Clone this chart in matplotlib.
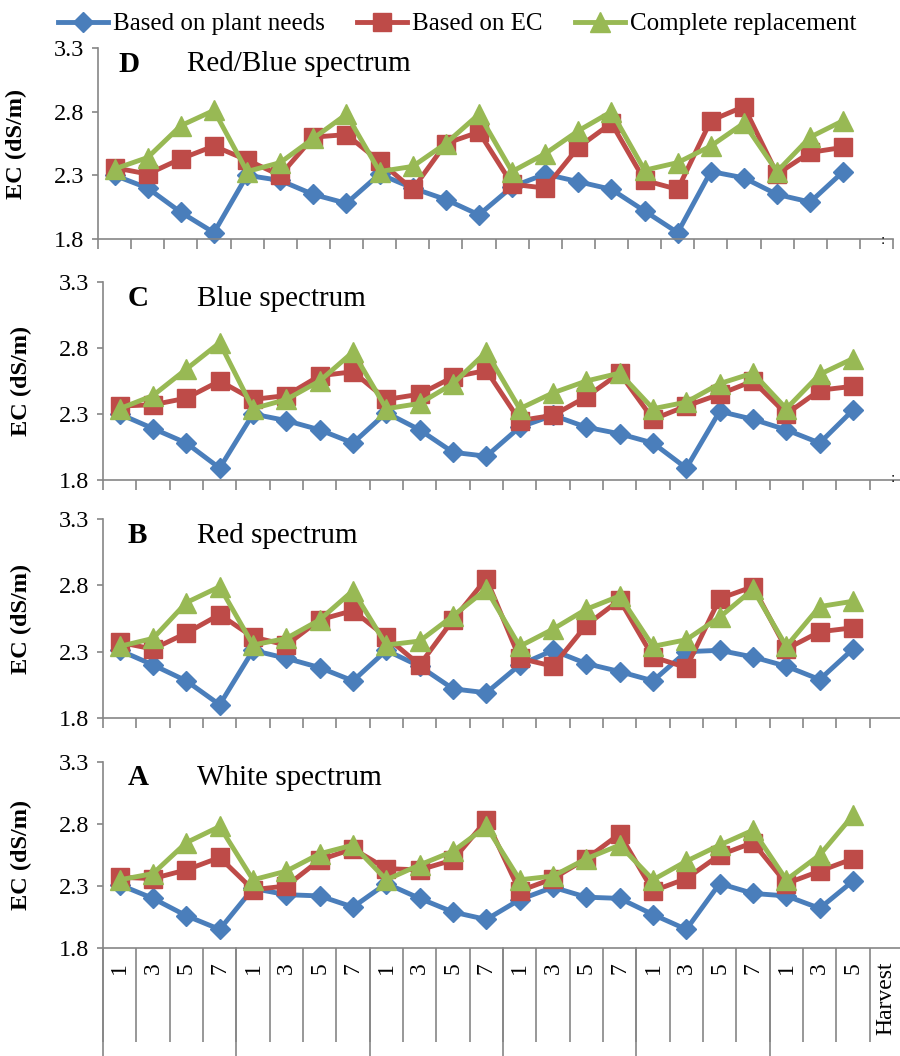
import numpy as np
import matplotlib
matplotlib.use("Agg")
import matplotlib.pyplot as plt

plt.rcParams['font.family'] = ['Liberation Serif', 'DejaVu Serif']

# x categories (days within each week, then harvest)
days = ['1', '3', '5', '7'] * 5 + ['1', '3', '5', 'Harvest']
series_names = ['Based on plant needs', 'Based on EC', 'Complete replacement']

# EC values (dS/m), one list per series and panel
d_plant = [2.30, 2.20, 2.01, 1.85, 2.30, 2.26, 2.15, 2.08, 2.31, 2.20, 2.11, 1.99,
           2.21, 2.31, 2.25, 2.19, 2.02, 1.85, 2.33, 2.28, 2.15, 2.09, 2.33]
d_ec = [2.36, 2.31, 2.43, 2.53, 2.42, 2.30, 2.60, 2.62, 2.41, 2.19, 2.55, 2.64,
        2.23, 2.20, 2.52, 2.71, 2.26, 2.19, 2.73, 2.84, 2.31, 2.48, 2.52]
d_repl = [2.35, 2.44, 2.69, 2.81, 2.33, 2.40, 2.59, 2.78, 2.33, 2.37, 2.55, 2.78,
          2.33, 2.47, 2.65, 2.80, 2.34, 2.40, 2.53, 2.71, 2.33, 2.60, 2.73]

c_plant = [2.30, 2.19, 2.08, 1.89, 2.30, 2.25, 2.18, 2.08, 2.31, 2.18, 2.01, 1.98,
           2.20, 2.29, 2.20, 2.15, 2.08, 1.89, 2.32, 2.26, 2.18, 2.08, 2.33]
c_ec = [2.36, 2.37, 2.42, 2.55, 2.41, 2.44, 2.59, 2.62, 2.41, 2.45, 2.58, 2.63,
        2.25, 2.29, 2.43, 2.61, 2.26, 2.36, 2.45, 2.55, 2.30, 2.48, 2.51]
c_repl = [2.34, 2.44, 2.64, 2.84, 2.34, 2.41, 2.55, 2.77, 2.34, 2.38, 2.53, 2.77,
          2.34, 2.46, 2.55, 2.61, 2.34, 2.39, 2.53, 2.61, 2.34, 2.60, 2.72]

b_plant = [2.31, 2.20, 2.08, 1.90, 2.31, 2.25, 2.18, 2.08, 2.31, 2.19, 2.02, 1.99,
           2.20, 2.31, 2.21, 2.15, 2.08, 2.30, 2.31, 2.26, 2.19, 2.09, 2.32]
b_ec = [2.37, 2.32, 2.44, 2.58, 2.41, 2.35, 2.54, 2.61, 2.41, 2.20, 2.54, 2.85,
        2.25, 2.19, 2.50, 2.69, 2.26, 2.18, 2.70, 2.79, 2.32, 2.45, 2.48]
b_repl = [2.34, 2.40, 2.67, 2.79, 2.35, 2.40, 2.54, 2.76, 2.35, 2.38, 2.57, 2.77,
          2.34, 2.47, 2.62, 2.72, 2.34, 2.39, 2.56, 2.77, 2.34, 2.64, 2.68]

a_plant = [2.31, 2.20, 2.06, 1.95, 2.28, 2.23, 2.22, 2.13, 2.32, 2.20, 2.09, 2.03,
           2.19, 2.29, 2.21, 2.20, 2.07, 1.95, 2.32, 2.24, 2.22, 2.12, 2.34]
a_ec = [2.37, 2.36, 2.43, 2.53, 2.27, 2.30, 2.51, 2.60, 2.44, 2.43, 2.51, 2.83,
        2.26, 2.36, 2.52, 2.72, 2.26, 2.36, 2.55, 2.65, 2.32, 2.42, 2.52]
a_repl = [2.35, 2.40, 2.65, 2.78, 2.35, 2.42, 2.56, 2.63, 2.35, 2.47, 2.58, 2.78,
          2.35, 2.38, 2.52, 2.63, 2.35, 2.50, 2.63, 2.75, 2.35, 2.55, 2.87]

panels = [
    ('D', 'Red/Blue spectrum', d_plant, d_ec, d_repl),
    ('C', 'Blue spectrum', c_plant, c_ec, c_repl),
    ('B', 'Red spectrum', b_plant, b_ec, b_repl),
    ('A', 'White spectrum', a_plant, a_ec, a_repl),
]

colors = ['#4A7EBB', '#BE4B48', '#98B954']
markers = ['D', 's', '^']
msizes = [10.5, 13, 14]
gray = '#868686'

W, H = 900, 1056
fig = plt.figure(figsize=(W / 100, H / 100), dpi=100)

# pixel boxes (left, right, top, bottom) of each panel
boxes = [(98, 893, 48, 239), (103, 903, 282, 480), (103, 903, 519, 718), (103, 903, 762, 948)]

x = np.arange(len(d_plant))
handles = []
for i, ((letter, title, p, e, r), (l, rt, t, b)) in enumerate(zip(panels, boxes)):
    ax = fig.add_axes([l / W, 1 - b / H, (rt - l) / W, (b - t) / H])
    for k, vals in enumerate([p, e, r]):
        ln, = ax.plot(x, vals, color=colors[k], lw=3.5, marker=markers[k],
                      ms=msizes[k], mec=colors[k], mfc=colors[k],
                      label=series_names[k], clip_on=False)
        if i == 0:
            handles.append(ln)
    ax.set_xlim(-0.5, len(days) - 0.5)
    ax.set_ylim(1.8, 3.3)
    ax.set_yticks([1.8, 2.3, 2.8, 3.3])
    ax.set_yticklabels(['1.8', '2.3', '2.8', '3.3'])
    for s in ['top', 'right']:
        ax.spines[s].set_visible(False)
    for s in ['left', 'bottom']:
        ax.spines[s].set_color(gray)
        ax.spines[s].set_linewidth(1.2)
    ax.tick_params(axis='y', direction='out', length=4, width=1.2, color=gray,
                   labelsize=17.5, pad=6)
    ax.set_xticks(np.arange(-0.5, len(days), 1.0), minor=True)
    ax.set_ylabel('EC (dS/m)', fontsize=17.5, fontweight='bold')
    ax.yaxis.set_label_coords(-71 / (rt - l), 0.5)

    ax.text((20 if i == 0 else 25) / (rt - l), 0.915, letter, transform=ax.transAxes,
            fontsize=21, fontweight='bold', va='center', ha='left')
    ax.text((89 if i == 0 else 94) / (rt - l), 0.915, title, transform=ax.transAxes,
            fontsize=21, va='center', ha='left')

    if i < 3:
        ax.set_xticks([])
        ax.tick_params(axis='x', which='minor', direction='out', length=7,
                       width=1.2, color=gray)
    else:
        ax.set_xticks(np.arange(len(days)))
        ax.set_xticklabels(days, rotation=90, fontsize=17)
        ax.tick_params(axis='x', which='major', length=0, pad=10)
        ax.tick_params(axis='x', which='minor', direction='out', length=68,
                       width=1.2, color=gray)
        # week group separators
        trans = ax.get_xaxis_transform()
        for g in np.arange(-0.5, len(days), 4):
            ax.plot([g, g], [0, -110 / (b - t)], color=gray, lw=1.2,
                    transform=trans, clip_on=False)

# leftover glyphs at the right edge of the top panels
fig.text(883 / W, 1 - 240 / H, ':', fontsize=11, ha='center', va='center')
fig.text(893 / W, 1 - 479 / H, ':', fontsize=11, ha='center', va='center')

fig.legend(handles=handles, loc='center', bbox_to_anchor=(457 / W, 1 - 24 / H),
           ncol=3, frameon=False, fontsize=18, handlelength=2.0,
           handletextpad=0.2, columnspacing=1.3, borderaxespad=0)

fig.savefig('out.png', dpi=100)
